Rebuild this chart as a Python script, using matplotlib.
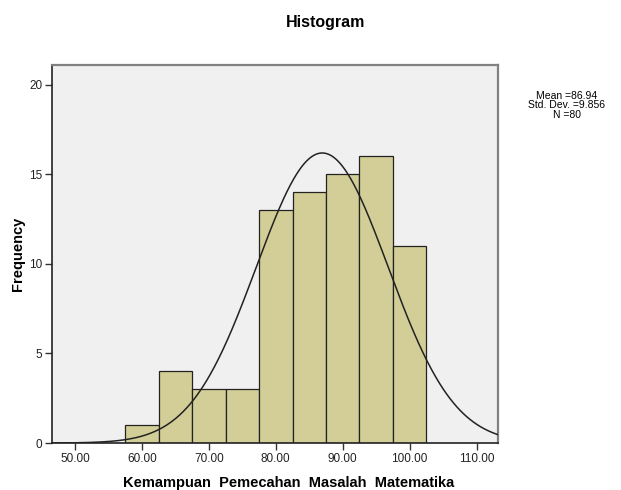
import matplotlib
matplotlib.use("Agg")
import matplotlib.pyplot as plt
import numpy as np

# bin centres (width 5) and counts
bin_centres = [60, 65, 70, 75, 80, 85, 90, 95, 100]
counts = [1, 4, 3, 3, 13, 14, 15, 16, 11]
bin_width = 5
mean, sd, n = 86.94, 9.856, 80
x_ticks = [50, 60, 70, 80, 90, 100, 110]
y_ticks = [0, 5, 10, 15, 20]

plt.rcParams['font.family'] = ['Liberation Sans', 'DejaVu Sans']

fig = plt.figure(figsize=(6.21, 4.90), dpi=100)
ax = fig.add_axes([0.0842, 0.0959, 0.7177, 0.7714])
ax.set_facecolor('#f0f0f0')

ax.bar(bin_centres, counts, width=bin_width, color='#d3ce97',
       edgecolor='#222222', linewidth=0.9, zorder=2)

xmin, xmax = 46.6, 113.2
xs = np.linspace(xmin, xmax, 400)
pdf = n * bin_width * np.exp(-0.5 * ((xs - mean) / sd) ** 2) / (sd * np.sqrt(2 * np.pi))
ax.plot(xs, pdf, color='#222222', linewidth=1.1, zorder=3)

ax.set_xlim(xmin, xmax)
ax.set_ylim(0, 21.1)
ax.set_xticks(x_ticks)
ax.set_xticklabels(['%.2f' % v for v in x_ticks])
ax.set_yticks(y_ticks)
ax.tick_params(axis='both', labelsize=8.5, length=5, width=1, color='#333333',
               labelcolor='#222222', pad=2)

for side in ['left', 'bottom']:
    ax.spines[side].set_color('#222222')
    ax.spines[side].set_linewidth(1.2)
for side in ['top', 'right']:
    ax.spines[side].set_color('#808080')
    ax.spines[side].set_linewidth(1.6)

ax.set_xlabel('Kemampuan  Pemecahan  Masalah  Matematika', fontsize=10.5,
              fontweight='bold')
ax.xaxis.set_label_coords(0.53, -0.086)
ax.set_ylabel('Frequency', fontsize=10.5, fontweight='bold', labelpad=3)

fig.text(0.525, 0.955, 'Histogram', ha='center', va='center',
         fontsize=11.5, fontweight='bold')
fig.text(0.913, 0.785, 'Mean =%.2f\nStd. Dev. =%.3f\nN =%d' % (mean, sd, n),
         ha='center', va='center', fontsize=7.5, linespacing=0.95)

fig.savefig('out.png', dpi=100)
